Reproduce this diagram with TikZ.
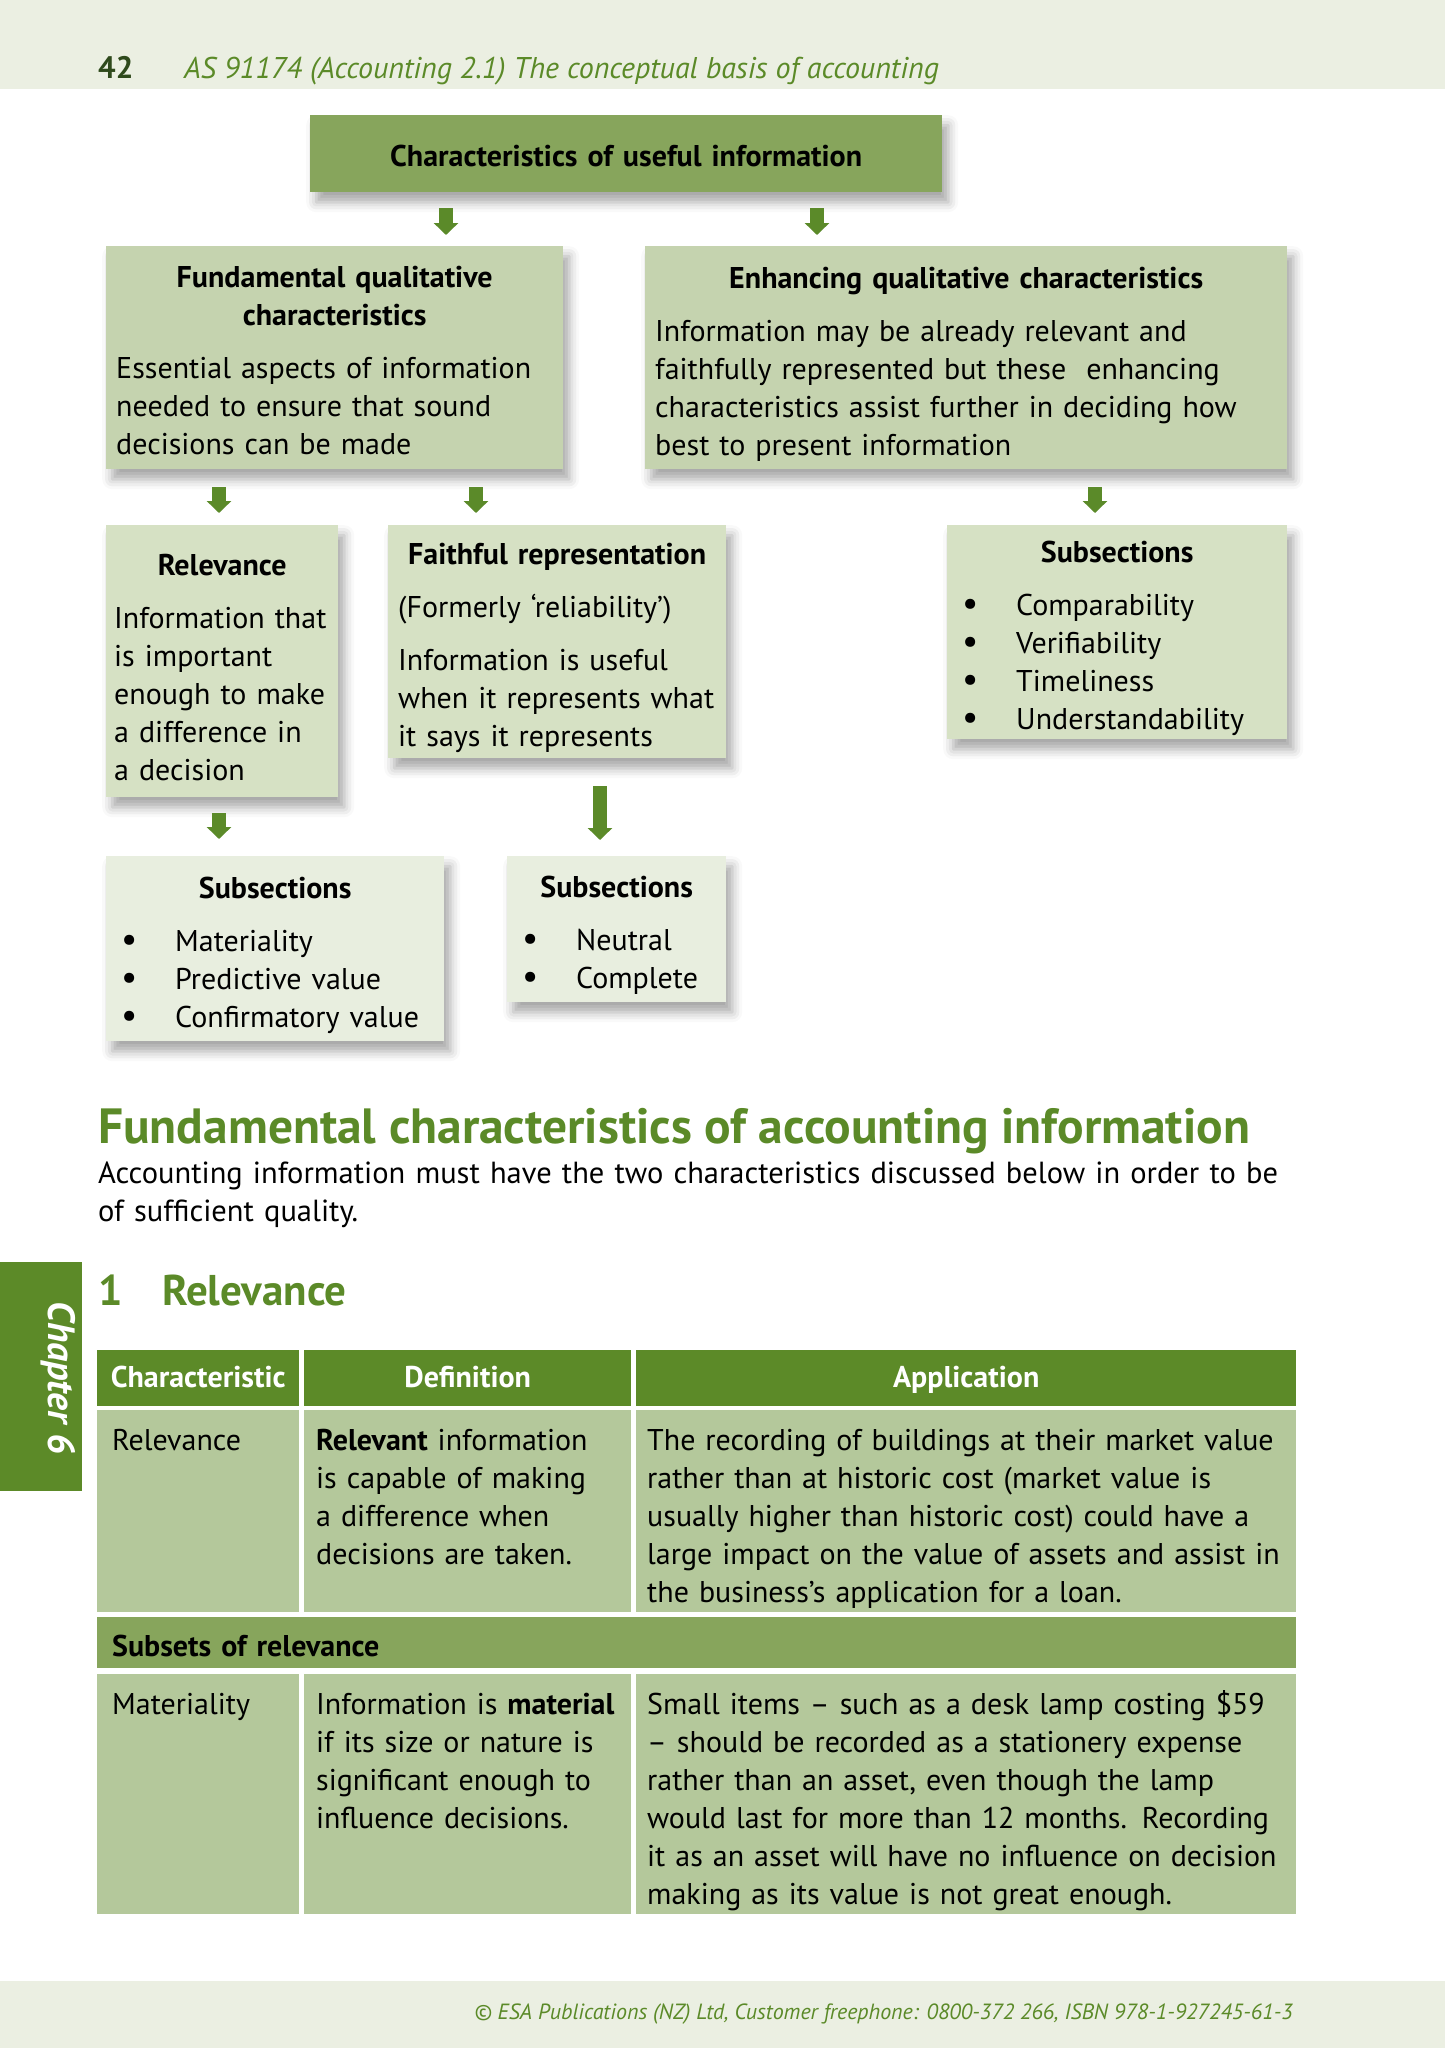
\documentclass[tikz,border=0pt]{standalone}
\usepackage{fontspec}
\setmainfont{PT Sans}
\usetikzlibrary{arrows.meta,shadows.blur,positioning}

\definecolor{bandgreen}{HTML}{EBEFE2}
\definecolor{topgreen}{HTML}{87A55C}
\definecolor{midgreen}{HTML}{C5D3AF}
\definecolor{lightgreen}{HTML}{D6E1C4}
\definecolor{palegreen}{HTML}{E8EEDF}
\definecolor{arrowgreen}{HTML}{5B8A29}
\definecolor{hdgreen}{HTML}{5C8A28}
\definecolor{cellgreen}{HTML}{B4C89B}
\definecolor{textgreen}{HTML}{5B8A28}
\definecolor{darkgreen}{HTML}{2F4A1C}

\newcommand\bodyfont{\fontsize{30}{38}\selectfont}
\newcommand\boxhead[2][34pt]{{\centering\bfseries\rule{0pt}{#1}#2\par}\vspace{15pt}}
\newcommand\itm[1]{\hspace*{5pt}\makebox[54pt][l]{{\fontsize{36}{38}\selectfont\textbullet}}#1}

\tikzset{
card/.style={rectangle, anchor=north west, inner xsep=10pt, inner ysep=0pt,
align=left, font=\bodyfont,
blur shadow={shadow xshift=6pt, shadow yshift=-10pt, shadow blur radius=10pt, shadow opacity=35}},
flow/.style={draw=arrowgreen, line width=14pt, -{Triangle[width=24pt,length=12pt]},
shorten <=16pt, shorten >=11pt},
thead/.style={fill=hdgreen, text=white, font=\bodyfont\bfseries, minimum height=56pt,
text height=24pt, text depth=5pt, inner sep=0pt, anchor=north west},
tcell/.style={anchor=north west, inner sep=0pt, align=left, font=\bodyfont},
}

\begin{document}
\begin{tikzpicture}[x=1pt, y=-1pt]
\useasboundingbox (0,0) rectangle (1445,2048);
% page head and foot
\fill[bandgreen] (0,0) rectangle (1445,89);
\node[anchor=base west, inner sep=0pt, font=\fontsize{31}{38}\selectfont\bfseries, text=darkgreen] (pageno) at (98,78) {42};
\node[anchor=base west, inner sep=0pt, font=\bodyfont\itshape, text=textgreen] (runhead) at (184,78)
	{AS 91174 (Accounting 2.1) The conceptual basis of accounting};
\fill[bandgreen] (0,1981) rectangle (1445,2048);
\node[anchor=base east, inner sep=0pt, font=\fontsize{22}{28}\selectfont\itshape, text=textgreen] (foot) at (1293,2019)
	{© ESA Publications (NZ) Ltd, Customer freephone: 0800-372 266, ISBN 978-1-927245-61-3};

% chart
\node[card, fill=topgreen, text width=612pt, minimum height=77pt, align=center, font=\bodyfont\bfseries]
	(top) at (310,115) {\rule{0pt}{27pt}Characteristics of useful information};
\node[card, fill=midgreen, text width=437pt, minimum height=223pt] (fund) at (106,246)
	{\boxhead[26pt]{Fundamental qualitative\\characteristics}
	Essential aspects of information\\needed to ensure that sound\\decisions can be made};
\node[card, fill=midgreen, text width=622pt, minimum height=223pt] (enh) at (645,246)
	{\boxhead{Enhancing qualitative characteristics}
	Information may be already relevant and\\faithfully represented but these\ \ enhancing\\characteristics assist further in deciding how\\best to present information};
\node[card, fill=lightgreen, inner xsep=8pt, text width=216pt, minimum height=272pt] (relv) at (106,525)
	{\boxhead{Relevance}
	\mbox{Information that}\\is important\\enough to make\\a difference in\\a decision};
\node[card, fill=lightgreen, text width=318pt, minimum height=233pt] (faith) at (388,525)
	{\boxhead{Faithful representation}
	(Formerly ‘reliability’)\par\vspace{15pt}
	Information is useful\\when it represents what\\it says it represents};
\node[card, fill=lightgreen, text width=320pt, minimum height=214pt] (subR) at (947,525)
	{\boxhead{Subsections}
	\itm{Comparability}\\\itm{Verifiability}\\\itm{Timeliness}\\\itm{Understandability}};
\node[card, fill=palegreen, text width=318pt, minimum height=185pt] (subL) at (106,856)
	{\boxhead{Subsections}
	\itm{Materiality}\\\itm{Predictive value}\\\itm{Confirmatory value}};
\node[card, fill=palegreen, text width=199pt, minimum height=146pt] (subM) at (507,856)
	{\boxhead{Subsections}
	\itm{Neutral}\\\itm{Complete}};

\coordinate (xa) at (446,0);
\coordinate (xb) at (817,0);
\coordinate (xc) at (219,0);
\coordinate (xd) at (476,0);
\coordinate (xe) at (1095,0);
\coordinate (xf) at (600,0);
\draw[flow] (top.south -| xa) -- (fund.north -| xa);
\draw[flow] (top.south -| xb) -- (enh.north -| xb);
\draw[flow, shorten <=18pt, shorten >=12pt] (fund.south -| xc) -- (relv.north -| xc);
\draw[flow, shorten <=18pt, shorten >=12pt] (fund.south -| xd) -- (faith.north -| xd);
\draw[flow, shorten <=18pt, shorten >=12pt] (enh.south -| xe) -- (subR.north -| xe);
\draw[flow, shorten >=17pt] (relv.south -| xc) -- (subL.north -| xc);
\draw[flow, shorten <=28pt, shorten >=16pt] (faith.south -| xf) -- (subM.north -| xf);

% text part
\node[anchor=base west, inner sep=0pt, font=\fontsize{49.5}{56}\selectfont\bfseries, text=textgreen]
	(mainhead) at (98,1143) {Fundamental characteristics of accounting information};
\node[tcell, text width=1250pt, font=\fontsize{30.5}{38}\selectfont] (intro) at (98,1162)
	{Accounting information must have the two characteristics discussed below in order to be\\of sufficient quality.};
\fill[hdgreen] (0,1262) rectangle (82,1491);
\node[rotate=-90, inner sep=0pt, font=\fontsize{38}{44}\selectfont\bfseries\itshape, text=white] (chap) at (58,1378) {Chapter 6};
\node[anchor=base west, inner sep=0pt, font=\fontsize{43}{50}\selectfont\bfseries, text=textgreen] (secno) at (98,1305) {1};
\node[anchor=base west, inner sep=0pt, font=\fontsize{43}{50}\selectfont\bfseries, text=textgreen] (sectitle) at (162,1305) {Relevance};

% table
\node[thead, minimum width=202pt] (thchar) at (97,1350) {Characteristic};
\node[thead, minimum width=327pt] (thdef) at (304,1350) {Definition};
\node[thead, minimum width=660pt] (thapp) at (636,1350) {Application};
\fill[cellgreen] (97,1410) rectangle (299,1612);
\fill[cellgreen] (304,1410) rectangle (631,1612);
\fill[cellgreen] (636,1410) rectangle (1296,1612);
\node[tcell, text width=180pt] (relchar) at (112,1424) {\strut Relevance};
\node[tcell, text width=305pt] (reldef) at (316,1424)
	{\strut\textbf{Relevant} information\\is capable of making\\a difference when\\decisions are taken.};
\node[tcell, text width=640pt] (relapp) at (647,1424)
	{\strut The recording of buildings at their market value\\rather than at historic cost (market value is\\usually higher than historic cost) could have a\\large impact on the value of assets and assist in\\the business’s application for a loan.};
\node[anchor=north west, fill=topgreen, minimum width=1199pt, minimum height=51pt, text width=1169pt,
	text height=28pt, text depth=0pt, inner xsep=15pt, inner ysep=0pt, align=left, font=\bodyfont\bfseries]
	(subsets) at (97,1617) {Subsets of relevance};
\fill[cellgreen] (97,1674) rectangle (299,1914);
\fill[cellgreen] (304,1674) rectangle (631,1914);
\fill[cellgreen] (636,1674) rectangle (1296,1914);
\node[tcell, text width=180pt] (matchar) at (112,1688) {\strut Materiality};
\node[tcell, text width=305pt] (matdef) at (316,1688)
	{\strut Information is \textbf{material}\\if its size or nature is\\significant enough to\\influence decisions.};
\node[tcell, text width=640pt] (matapp) at (647,1688)
	{\strut Small items – such as a desk lamp costing \$59\\– should be recorded as a stationery expense\\rather than an asset, even though the lamp\\would last for more than 12 months. Recording\\it as an asset will have no influence on decision\\making as its value is not great enough.};
\end{tikzpicture}
\end{document}
